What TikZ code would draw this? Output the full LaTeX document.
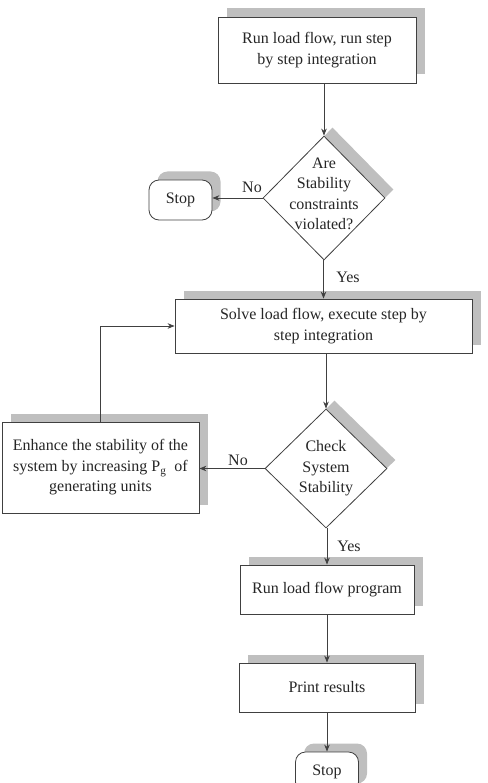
\documentclass[tikz,border=0pt]{standalone}
\usepackage{fontspec}
\setmainfont{Liberation Serif}
\usetikzlibrary{shapes.geometric,shadows,arrows.meta}

\begin{document}
\begin{tikzpicture}
[x=1pt,y=-1pt,
  arrowDecorate/.style={-{Stealth[length=7pt,width=5.5pt]},draw=black!75,line width=0.8pt},%
  shadowDecorate/.style={drop shadow={shadow xshift=8.5pt,shadow yshift=8.5pt,fill=gray!50,opacity=1}},%
  boxDecorate/.style={shape=rectangle,draw=black!75,line width=0.8pt,fill=white,inner sep=0pt,align=center,shadowDecorate},%
  stopDecorate/.style={boxDecorate,rounded corners=10pt,minimum width=63pt,minimum height=40pt},%
  decisionDecorate/.style={shape=diamond,draw=black!75,line width=0.8pt,fill=white,inner sep=0pt,minimum width=122pt,minimum height=124pt,shadowDecorate},%
  textDecorate/.style={align=center,inner sep=0pt},%
  font=\fontsize{16}{20.5}\selectfont,text=black!85]
\useasboundingbox (0,0) rectangle (487,783);
%% boxes
\node (run1) at (317,50) [boxDecorate,minimum width=198pt,minimum height=66pt] {Run load flow, run step\\by step integration};
\node (solve) at (323.5,326) [boxDecorate,minimum width=297pt,minimum height=54pt] {Solve load flow, execute step by\\step integration};
\node (enhance) at (100.5,467.5) [boxDecorate,minimum width=197pt,minimum height=91pt] {Enhance the stability of the\\system by increasing P\textsubscript{g}\ \ of\\generating units};
\node (runlf) at (327,589.5) [boxDecorate,minimum width=174pt,minimum height=49pt] {Run load flow program};
\node (print) at (327,687.5) [boxDecorate,minimum width=176pt,minimum height=49pt] {Print results};
%% decisions
\node (check1) at (324,198) [decisionDecorate] {};
\node (check1text) at ([yshift=4pt]check1) [textDecorate] {Are\\Stability\\constraints\\violated?};
\node (check2) at (326,468.5) [decisionDecorate,minimum height=119pt] {};
\node (check2text) at (check2) [textDecorate] {Check\\System\\Stability};
%% terminals
\node (stop1) at (180.5,200) [stopDecorate] {Stop};
\node (stop2) at (327,772) [stopDecorate] {Stop};
%% edges
\foreach \upper/\lower in {run1/check1, check1/solve, solve/check2, check2/runlf, runlf/print, print/stop2}
{
  \draw[arrowDecorate] (\upper.south -| \lower.north) -- (\lower.north);
}
\draw[arrowDecorate] (check1.west) -- (check1.west -| stop1.east);
\draw[arrowDecorate] (check2.west) -- (check2.west -| enhance.east);
\draw[arrowDecorate] (enhance.north) |- (solve.west);
%% labels
\node (no1) at (252,187) {No};
\node (yes1) at (348,277) {Yes};
\node (no2) at (238,460) {No};
\node (yes2) at (349,546) {Yes};
\end{tikzpicture}
\end{document}
